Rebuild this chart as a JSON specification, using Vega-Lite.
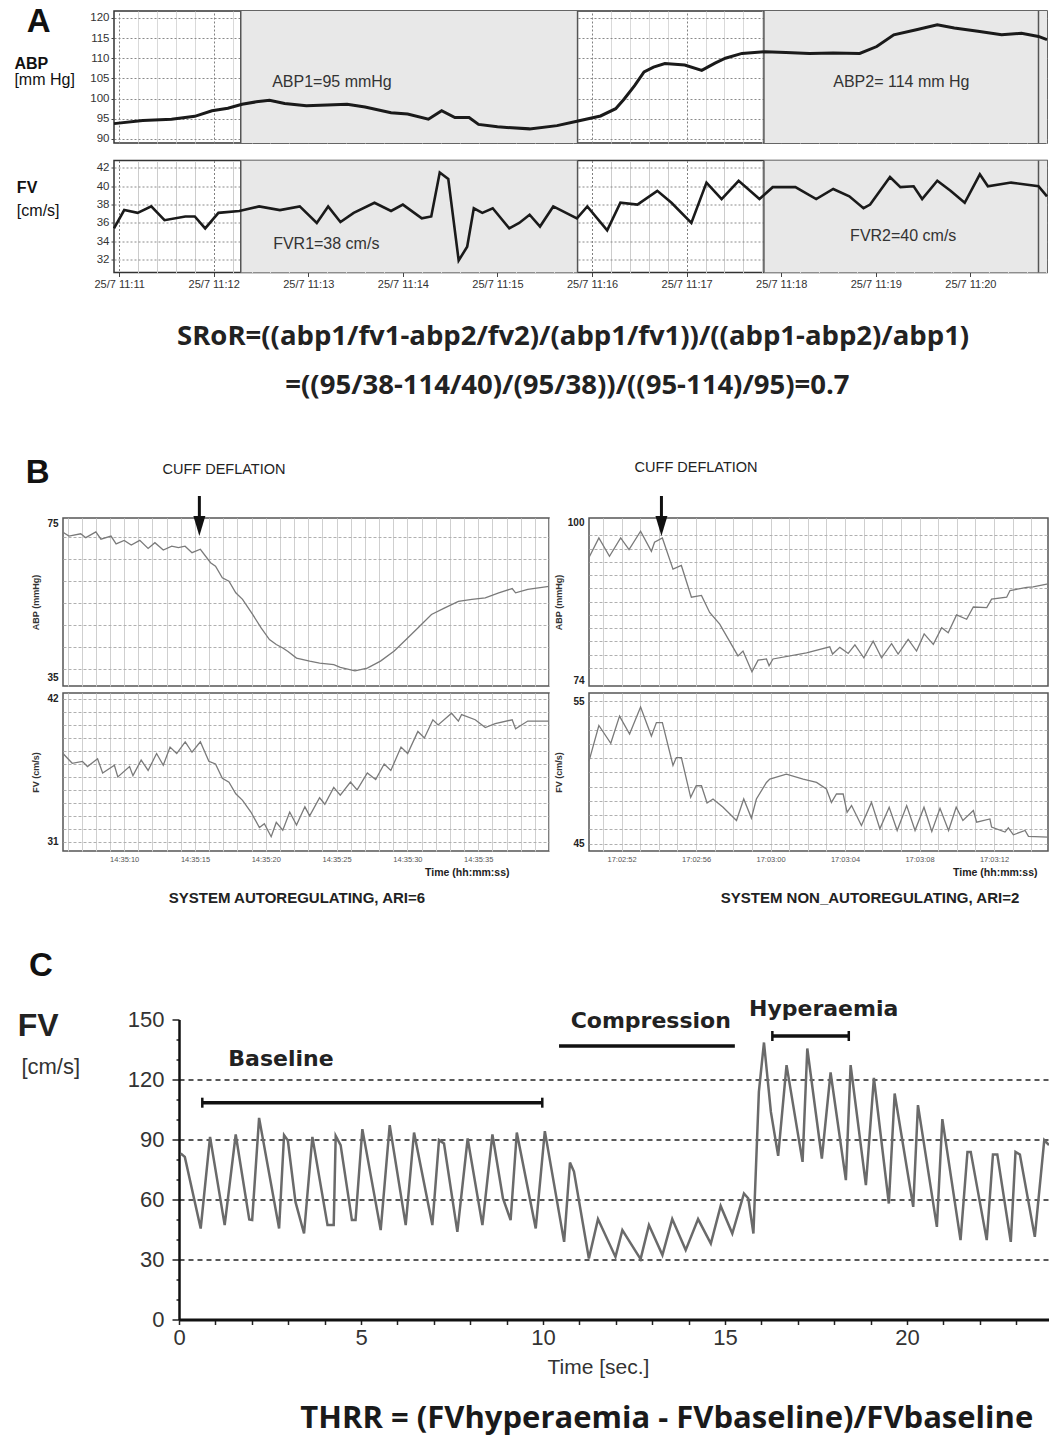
{
"$schema": "https://vega.github.io/schema/vega-lite/v6.json",
"padding": {"left": 0, "top": 0, "right": 0, "bottom": 6},
"background": "white",
"spacing": 12.5,
"bounds": "full",
"config": {
  "font": "Liberation Sans",
  "axis": {"labelFont": "Liberation Sans", "titleFont": "Liberation Sans", "labelOverlap": false, "labelFlush": false},
  "text": {"font": "Liberation Sans"}
},
"vconcat": [
{"spacing": 0, "hconcat": [
{"width": 1, "height": 1, "view": {"stroke": null}, "data": {"values": []}, "mark": "point"},
{
  "width": 933, "height": 132,
  "view": {"stroke": "#333", "strokeWidth": 1.5},
  "layer": [
    {"data": {"values": [{"start": 1.286, "end": 4.847}, {"start": 6.817, "end": 9.81}]},
     "mark": {"type": "rect", "color": "#e8e8e8"},
     "encoding": {
       "x": {"field": "start", "type": "quantitative", "scale": {"domain": [-0.054, 9.81], "nice": false, "zero": false},
         "axis": {"orient": "top", "tickCount": 200, "values": [0,0.2,0.4,0.6,0.8,1,1.2,1.4,1.6,1.8,2,2.2,2.4,2.6,2.8,3,3.2,3.4,3.6,3.8,4,4.2,4.4,4.6,4.8,5,5.2,5.4,5.6,5.8,6,6.2,6.4,6.6,6.8,7,7.2,7.4,7.6,7.8,8,8.2,8.4,8.6,8.8,9,9.2,9.4,9.6,9.8],
           "labels": false, "ticks": false, "domain": true, "domainOpacity": 0, "grid": true, "labelOverlap": false,
           "gridColor": {"condition": {"test": "datum.value == floor(datum.value)", "value": "#808080"}, "value": "#cccccc"},
           "gridDash": {"condition": {"test": "datum.value == floor(datum.value)", "value": [2, 2]}, "value": [1, 0]},
           "minExtent": 10, "maxExtent": 10, "title": null}},
       "x2": {"field": "end"}
     }},
    {"data": {"values": [{"t": 1.286}, {"t": 4.847}, {"t": 6.817}, {"t": 9.72}]},
     "mark": {"type": "rule", "color": "#555", "strokeWidth": 1.5},
     "encoding": {"x": {"field": "t", "type": "quantitative"}}},
    {"data": {"values": [
      {"t": -0.054, "v": 93.8}, {"t": 0.25, "v": 94.6}, {"t": 0.554, "v": 94.9}, {"t": 0.8, "v": 95.6}, {"t": 0.982, "v": 97.0},
      {"t": 1.15, "v": 97.6}, {"t": 1.3, "v": 98.6}, {"t": 1.45, "v": 99.2}, {"t": 1.59, "v": 99.6}, {"t": 1.75, "v": 98.8},
      {"t": 1.98, "v": 98.2}, {"t": 2.2, "v": 98.4}, {"t": 2.41, "v": 98.6}, {"t": 2.6, "v": 97.9}, {"t": 2.875, "v": 96.5},
      {"t": 3.05, "v": 96.2}, {"t": 3.27, "v": 94.9}, {"t": 3.41, "v": 97.0}, {"t": 3.55, "v": 95.3}, {"t": 3.7, "v": 95.3},
      {"t": 3.8, "v": 93.6}, {"t": 4.0, "v": 93.0}, {"t": 4.34, "v": 92.5}, {"t": 4.63, "v": 93.3}, {"t": 4.84, "v": 94.4},
      {"t": 5.09, "v": 95.7}, {"t": 5.25, "v": 97.5}, {"t": 5.34, "v": 99.9}, {"t": 5.45, "v": 103.2}, {"t": 5.55, "v": 106.6},
      {"t": 5.65, "v": 107.8}, {"t": 5.77, "v": 108.7}, {"t": 5.98, "v": 108.3}, {"t": 6.16, "v": 107.0}, {"t": 6.3, "v": 108.8},
      {"t": 6.41, "v": 110.0}, {"t": 6.585, "v": 111.2}, {"t": 6.83, "v": 111.6}, {"t": 7.05, "v": 111.4}, {"t": 7.3, "v": 111.2},
      {"t": 7.55, "v": 111.3}, {"t": 7.83, "v": 111.2}, {"t": 8.01, "v": 112.9}, {"t": 8.19, "v": 115.8}, {"t": 8.44, "v": 117.1},
      {"t": 8.65, "v": 118.3}, {"t": 8.83, "v": 117.5}, {"t": 9.08, "v": 116.7}, {"t": 9.33, "v": 115.8}, {"t": 9.54, "v": 116.2},
      {"t": 9.72, "v": 115.4}, {"t": 9.81, "v": 114.6}]},
     "mark": {"type": "line", "color": "#1a1a1a", "strokeWidth": 3},
     "encoding": {
       "x": {"field": "t", "type": "quantitative"},
       "y": {"field": "v", "type": "quantitative", "scale": {"domain": [89, 121.7], "nice": false, "zero": false},
         "axis": {"values": [90, 95, 100, 105, 110, 115, 120], "format": "d", "tickCount": 200, "grid": true, "gridColor": "#8a8a8a", "gridDash": [2, 2], "labelOverlap": false,
           "tickSize": 3, "tickColor": "#444", "domain": false, "labelFontSize": 11.5, "labelColor": "#333", "labelPadding": 2,
           "title": null, "minExtent": 112}}
     }},
    {"data": {"values": [{"t": -0.85, "v": 118.9, "label": "A"}]},
     "mark": {"type": "text", "fontSize": 33, "fontWeight": "bold", "align": "center", "baseline": "middle", "color": "#111"},
     "encoding": {"x": {"field": "t", "type": "quantitative"}, "y": {"field": "v", "type": "quantitative"}, "text": {"field": "label"}}},
    {"data": {"values": [{"t": -1.107, "v": 108.5, "label": "ABP"}]},
     "mark": {"type": "text", "fontSize": 16, "fontWeight": "bold", "align": "left", "baseline": "middle", "color": "#111"},
     "encoding": {"x": {"field": "t", "type": "quantitative"}, "y": {"field": "v", "type": "quantitative"}, "text": {"field": "label"}}},
    {"data": {"values": [{"t": -1.107, "v": 104.6, "label": "[mm Hg]"}]},
     "mark": {"type": "text", "fontSize": 16, "align": "left", "baseline": "middle", "color": "#111"},
     "encoding": {"x": {"field": "t", "type": "quantitative"}, "y": {"field": "v", "type": "quantitative"}, "text": {"field": "label"}}},
    {"data": {"values": [{"t": 2.25, "v": 104.1, "label": "ABP1=95 mmHg"}, {"t": 8.27, "v": 104.1, "label": "ABP2= 114 mm Hg"}]},
     "mark": {"type": "text", "fontSize": 16, "align": "center", "baseline": "middle", "color": "#333"},
     "encoding": {"x": {"field": "t", "type": "quantitative"}, "y": {"field": "v", "type": "quantitative"}, "text": {"field": "label"}}}
  ]
}]},
{"spacing": 0, "hconcat": [
{"width": 1, "height": 1, "view": {"stroke": null}, "data": {"values": []}, "mark": "point"},
{
  "width": 933, "height": 112,
  "view": {"stroke": "#333", "strokeWidth": 1.5},
  "layer": [
    {"data": {"values": [{"start": 1.286, "end": 4.847}, {"start": 6.817, "end": 9.81}]},
     "mark": {"type": "rect", "color": "#e8e8e8"},
     "encoding": {
       "x": {"field": "start", "type": "quantitative", "scale": {"domain": [-0.054, 9.81], "nice": false, "zero": false},
         "axis": {"tickCount": 200, "values": [0,0.2,0.4,0.6,0.8,1,1.2,1.4,1.6,1.8,2,2.2,2.4,2.6,2.8,3,3.2,3.4,3.6,3.8,4,4.2,4.4,4.6,4.8,5,5.2,5.4,5.6,5.8,6,6.2,6.4,6.6,6.8,7,7.2,7.4,7.6,7.8,8,8.2,8.4,8.6,8.8,9,9.2,9.4,9.6,9.8],
           "labelExpr": "datum.value == floor(datum.value) ? '25/7 11:' + (11 + datum.value) : ''", "labelOverlap": false,
           "labelFontSize": 11, "labelColor": "#333", "labelPadding": 2, "tickSize": 4, "tickColor": "#444",
           "tickOpacity": {"condition": {"test": "datum.value == floor(datum.value)", "value": 1}, "value": 0},
           "domain": false, "grid": true,
           "gridColor": {"condition": {"test": "datum.value == floor(datum.value)", "value": "#808080"}, "value": "#cccccc"},
           "gridDash": {"condition": {"test": "datum.value == floor(datum.value)", "value": [2, 2]}, "value": [1, 0]},
           "minExtent": 168.5, "maxExtent": 168.5, "title": null}},
       "x2": {"field": "end"}
     }},
    {"data": {"values": [{"t": 1.286}, {"t": 4.847}, {"t": 6.817}, {"t": 9.72}]},
     "mark": {"type": "rule", "color": "#555", "strokeWidth": 1.5},
     "encoding": {"x": {"field": "t", "type": "quantitative"}}},
    {"data": {"values": [
      {"t": -0.054, "v": 35.4}, {"t": 0.054, "v": 37.4}, {"t": 0.196, "v": 37.1}, {"t": 0.34, "v": 37.8}, {"t": 0.48, "v": 36.3},
      {"t": 0.7, "v": 36.7}, {"t": 0.8, "v": 36.7}, {"t": 0.91, "v": 35.4}, {"t": 1.05, "v": 37.1}, {"t": 1.27, "v": 37.3},
      {"t": 1.48, "v": 37.8}, {"t": 1.7, "v": 37.4}, {"t": 1.91, "v": 37.8}, {"t": 2.09, "v": 36.0}, {"t": 2.21, "v": 37.8},
      {"t": 2.34, "v": 36.1}, {"t": 2.48, "v": 37.1}, {"t": 2.7, "v": 38.2}, {"t": 2.875, "v": 37.3}, {"t": 3.0, "v": 38.0},
      {"t": 3.2, "v": 36.5}, {"t": 3.3, "v": 36.7}, {"t": 3.39, "v": 41.5}, {"t": 3.48, "v": 40.8}, {"t": 3.59, "v": 31.9},
      {"t": 3.68, "v": 33.4}, {"t": 3.75, "v": 37.6}, {"t": 3.84, "v": 37.1}, {"t": 3.95, "v": 37.6}, {"t": 4.125, "v": 35.4},
      {"t": 4.23, "v": 36.0}, {"t": 4.34, "v": 36.9}, {"t": 4.45, "v": 35.6}, {"t": 4.59, "v": 37.8}, {"t": 4.84, "v": 36.5},
      {"t": 4.95, "v": 37.8}, {"t": 5.16, "v": 35.2}, {"t": 5.3, "v": 38.2}, {"t": 5.48, "v": 38.0}, {"t": 5.69, "v": 39.5},
      {"t": 5.84, "v": 38.2}, {"t": 6.05, "v": 36.0}, {"t": 6.21, "v": 40.4}, {"t": 6.37, "v": 38.6}, {"t": 6.55, "v": 40.6},
      {"t": 6.77, "v": 38.6}, {"t": 6.91, "v": 39.9}, {"t": 7.15, "v": 39.9}, {"t": 7.37, "v": 38.6}, {"t": 7.55, "v": 39.7},
      {"t": 7.72, "v": 38.9}, {"t": 7.87, "v": 37.6}, {"t": 7.94, "v": 38.0}, {"t": 8.15, "v": 41.0}, {"t": 8.26, "v": 39.9},
      {"t": 8.4, "v": 40.0}, {"t": 8.49, "v": 38.6}, {"t": 8.65, "v": 40.6}, {"t": 8.79, "v": 39.5}, {"t": 8.94, "v": 38.2},
      {"t": 9.1, "v": 41.3}, {"t": 9.185, "v": 40.0}, {"t": 9.43, "v": 40.4}, {"t": 9.72, "v": 40.0}, {"t": 9.81, "v": 38.9}]},
     "mark": {"type": "line", "color": "#1a1a1a", "strokeWidth": 2.6},
     "encoding": {
       "x": {"field": "t", "type": "quantitative"},
       "y": {"field": "v", "type": "quantitative", "scale": {"domain": [30.59, 42.81], "nice": false, "zero": false},
         "axis": {"values": [32, 34, 36, 38, 40, 42], "format": "d", "tickCount": 200, "grid": true, "gridColor": "#8a8a8a", "gridDash": [2, 2], "labelOverlap": false,
           "tickSize": 3, "tickColor": "#444", "domain": false, "labelFontSize": 11.5, "labelColor": "#333", "labelPadding": 2,
           "title": null, "minExtent": 112}}
     }},
    {"data": {"values": [{"t": -1.081, "v": 39.85, "label": "FV"}]},
     "mark": {"type": "text", "fontSize": 16, "fontWeight": "bold", "align": "left", "baseline": "middle", "color": "#111"},
     "encoding": {"x": {"field": "t", "type": "quantitative"}, "y": {"field": "v", "type": "quantitative"}, "text": {"field": "label"}}},
    {"data": {"values": [{"t": -1.081, "v": 37.35, "label": "[cm/s]"}]},
     "mark": {"type": "text", "fontSize": 16, "align": "left", "baseline": "middle", "color": "#111"},
     "encoding": {"x": {"field": "t", "type": "quantitative"}, "y": {"field": "v", "type": "quantitative"}, "text": {"field": "label"}}},
    {"data": {"values": [{"t": 2.19, "v": 33.65, "label": "FVR1=38 cm/s"}, {"t": 8.29, "v": 34.55, "label": "FVR2=40 cm/s"}]},
     "mark": {"type": "text", "fontSize": 16, "align": "center", "baseline": "middle", "color": "#333"},
     "encoding": {"x": {"field": "t", "type": "quantitative"}, "y": {"field": "v", "type": "quantitative"}, "text": {"field": "label"}}},
    {"data": {"values": [
      {"t": 4.8, "v": 23.5, "label": "SRoR=((abp1/fv1-abp2/fv2)/(abp1/fv1))/((abp1-abp2)/abp1)"},
      {"t": 4.74, "v": 18.26, "label": "=((95/38-114/40)/(95/38))/((95-114)/95)=0.7"}]},
     "mark": {"type": "text", "font": "Open Sans", "fontSize": 27.5, "fontWeight": "bold", "align": "center", "baseline": "middle", "color": "#222"},
     "encoding": {"x": {"field": "t", "type": "quantitative"}, "y": {"field": "v", "type": "quantitative"}, "text": {"field": "label"}}}
  ]
}]},
{
  "spacing": 0,
  "bounds": "full",
  "hconcat": [
    {"width": 1, "height": 1, "view": {"stroke": null}, "data": {"values": []}, "mark": "point"},
    {
      "spacing": 5,
      "bounds": "full",
      "vconcat": [
        {
          "width": 486, "height": 168,
          "view": {"stroke": "#555", "strokeWidth": 1.5},
          "layer": [
            {"data": {"values": [
              {"t": 5.68, "v": 72.6}, {"t": 6.1, "v": 71.6}, {"t": 6.93, "v": 72.2}, {"t": 7.29, "v": 71.2}, {"t": 8.0, "v": 72.7},
              {"t": 8.36, "v": 70.8}, {"t": 9.07, "v": 71.6}, {"t": 9.43, "v": 69.6}, {"t": 10.0, "v": 70.5}, {"t": 10.5, "v": 69.3},
              {"t": 11.1, "v": 70.5}, {"t": 11.69, "v": 68.4}, {"t": 12.17, "v": 69.9}, {"t": 12.76, "v": 68.0}, {"t": 13.36, "v": 69.0},
              {"t": 13.83, "v": 68.6}, {"t": 14.3, "v": 69.0}, {"t": 14.79, "v": 67.3}, {"t": 15.38, "v": 68.2}, {"t": 16.1, "v": 64.7},
              {"t": 16.45, "v": 63.8}, {"t": 16.93, "v": 60.8}, {"t": 17.4, "v": 59.9}, {"t": 17.88, "v": 56.9}, {"t": 18.36, "v": 55.2},
              {"t": 19.07, "v": 51.3}, {"t": 19.67, "v": 47.8}, {"t": 20.26, "v": 44.8}, {"t": 20.74, "v": 43.5}, {"t": 21.2, "v": 42.6},
              {"t": 21.57, "v": 41.7}, {"t": 22.17, "v": 40.0}, {"t": 23.1, "v": 39.2}, {"t": 23.8, "v": 38.7}, {"t": 24.8, "v": 38.3},
              {"t": 25.26, "v": 37.6}, {"t": 26.3, "v": 36.7}, {"t": 27.17, "v": 37.4}, {"t": 28.1, "v": 39.2}, {"t": 29.07, "v": 41.8},
              {"t": 29.8, "v": 44.4}, {"t": 30.74, "v": 47.8}, {"t": 31.7, "v": 51.3}, {"t": 32.64, "v": 53.0}, {"t": 33.6, "v": 54.7},
              {"t": 34.55, "v": 55.2}, {"t": 35.5, "v": 55.6}, {"t": 36.45, "v": 56.9}, {"t": 37.4, "v": 58.0}, {"t": 37.64, "v": 56.9},
              {"t": 38.5, "v": 57.8}, {"t": 40.0, "v": 58.6}]},
             "mark": {"type": "line", "color": "#7a7a7a", "strokeWidth": 1.3},
             "encoding": {
               "x": {"field": "t", "type": "quantitative", "scale": {"domain": [5.68, 40], "nice": false, "zero": false},
                 "axis": {"orient": "top", "tickCount": 200, "values": [6,7,8,9,10,11,12,13,14,15,16,17,18,19,20,21,22,23,24,25,26,27,28,29,30,31,32,33,34,35,36,37,38,39,40],
                   "labels": false, "ticks": false, "domain": true, "domainOpacity": 0, "grid": true, "gridColor": "#cfcfcf", "gridWidth": 1, "labelOverlap": false,
                   "minExtent": 62, "maxExtent": 62, "title": null}},
               "y": {"field": "v", "type": "quantitative", "scale": {"domain": [32.75, 76.3], "nice": false, "zero": false},
                 "axis": {"values": [35, 37.1, 42.8, 48.6, 54.3, 60, 65.7, 71.5, 75], "format": "d", "tickCount": 200, "labelOverlap": false,
                   "labelExpr": "datum.value == 35 || datum.value == 75 ? datum.label : ''",
                   "grid": true, "gridColor": "#b0b0b0", "gridDash": [3, 2],
                   "gridOpacity": {"condition": {"test": "datum.value == 35 || datum.value == 75", "value": 0}, "value": 1},
                   "ticks": false, "domain": false, "labelFontSize": 10, "labelFontWeight": "bold", "labelColor": "#222", "labelPadding": 5,
                   "title": "ABP (mmHg)", "titleFontSize": 9, "titleFontWeight": "bold", "titleColor": "#333", "titleX": -23, "titleY": 84,
                   "minExtent": 61}}
             }},
            {"data": {"values": [{"t": 3.9, "v": 87.96, "label": "B"}]},
             "mark": {"type": "text", "fontSize": 33, "fontWeight": "bold", "align": "center", "baseline": "middle", "color": "#111"},
             "encoding": {"x": {"field": "t", "type": "quantitative"}, "y": {"field": "v", "type": "quantitative"}, "text": {"field": "label"}}},
            {"data": {"values": [{"t": 17.05, "v": 88.74, "label": "CUFF DEFLATION"}]},
             "mark": {"type": "text", "fontSize": 14.5, "align": "center", "baseline": "middle", "color": "#222"},
             "encoding": {"x": {"field": "t", "type": "quantitative"}, "y": {"field": "v", "type": "quantitative"}, "text": {"field": "label"}}},
            {"data": {"values": [{"t": 15.31, "v": 82.0, "v2": 75.5}]},
             "mark": {"type": "rule", "color": "#111", "strokeWidth": 3},
             "encoding": {"x": {"field": "t", "type": "quantitative"}, "y": {"field": "v", "type": "quantitative"}, "y2": {"field": "v2"}}},
            {"data": {"values": [{"t": 15.31, "v": 74.2}]},
             "mark": {"type": "point", "shape": "M-0.6,-1L0.6,-1L0,1Z", "filled": true, "color": "#111", "size": 400, "opacity": 1},
             "encoding": {"x": {"field": "t", "type": "quantitative"}, "y": {"field": "v", "type": "quantitative"}}}
          ]
        },
        {
          "width": 486, "height": 158,
          "view": {"stroke": "#555", "strokeWidth": 1.5},
          "layer": [
            {"data": {"values": [
              {"t": 5.68, "v": 37.8}, {"t": 6.33, "v": 37.05}, {"t": 7.05, "v": 37.2}, {"t": 7.41, "v": 36.8}, {"t": 8.12, "v": 37.4},
              {"t": 8.48, "v": 36.3}, {"t": 9.31, "v": 36.9}, {"t": 9.55, "v": 36.0}, {"t": 10.38, "v": 36.8}, {"t": 10.62, "v": 36.1},
              {"t": 11.2, "v": 37.3}, {"t": 11.69, "v": 36.5}, {"t": 12.29, "v": 37.8}, {"t": 12.76, "v": 36.9}, {"t": 13.24, "v": 38.3},
              {"t": 13.71, "v": 37.8}, {"t": 14.31, "v": 38.7}, {"t": 14.79, "v": 37.9}, {"t": 15.38, "v": 38.7}, {"t": 15.98, "v": 37.2},
              {"t": 16.45, "v": 37.0}, {"t": 16.93, "v": 35.9}, {"t": 17.4, "v": 35.6}, {"t": 17.88, "v": 34.7}, {"t": 18.36, "v": 34.2},
              {"t": 18.95, "v": 33.3}, {"t": 19.55, "v": 32.1}, {"t": 19.9, "v": 32.4}, {"t": 20.38, "v": 31.4}, {"t": 20.74, "v": 32.5},
              {"t": 21.2, "v": 31.9}, {"t": 21.69, "v": 33.3}, {"t": 22.17, "v": 32.3}, {"t": 22.76, "v": 33.7}, {"t": 23.1, "v": 33.0},
              {"t": 23.8, "v": 34.4}, {"t": 24.17, "v": 33.9}, {"t": 24.8, "v": 35.2}, {"t": 25.26, "v": 34.6}, {"t": 25.98, "v": 35.6},
              {"t": 26.45, "v": 35.0}, {"t": 27.17, "v": 36.3}, {"t": 27.76, "v": 35.8}, {"t": 28.36, "v": 37.0}, {"t": 28.83, "v": 36.5},
              {"t": 29.55, "v": 38.3}, {"t": 30.02, "v": 37.8}, {"t": 30.74, "v": 39.5}, {"t": 31.2, "v": 39.0}, {"t": 31.8, "v": 40.4},
              {"t": 32.17, "v": 40.0}, {"t": 33.12, "v": 40.9}, {"t": 33.6, "v": 40.3}, {"t": 33.83, "v": 40.8}, {"t": 34.79, "v": 40.4},
              {"t": 35.5, "v": 39.8}, {"t": 36.2, "v": 40.1}, {"t": 37.4, "v": 40.4}, {"t": 37.64, "v": 39.7}, {"t": 38.5, "v": 40.3},
              {"t": 40.0, "v": 40.3}]},
             "mark": {"type": "line", "color": "#7a7a7a", "strokeWidth": 1.3},
             "encoding": {
               "x": {"field": "t", "type": "quantitative", "scale": {"domain": [5.68, 40], "nice": false, "zero": false},
                 "axis": {"tickCount": 200, "values": [6,7,8,9,10,11,12,13,14,15,16,17,18,19,20,21,22,23,24,25,26,27,28,29,30,31,32,33,34,35,36,37,38,39,40],
                   "labelExpr": "datum.value % 5 == 0 && datum.value < 40 ? '14:35:' + format(datum.value, '02d') : ''", "labelOverlap": false,
                   "labelFontSize": 7.5, "labelColor": "#555", "labelPadding": 4, "ticks": false, "domain": false,
                   "grid": true, "gridColor": "#cfcfcf", "gridWidth": 1,
                   "title": "Time (hh:mm:ss)", "titleFontSize": 10.5, "titleFontWeight": "bold", "titleColor": "#222",
                   "titleX": 446, "titleY": 21, "titleAlign": "right", "titleBaseline": "middle",
                   "minExtent": 84.5, "maxExtent": 84.5}},
               "y": {"field": "v", "type": "quantitative", "scale": {"domain": [30.3, 42.46], "nice": false, "zero": false},
                 "axis": {"values": [31,32,33,34,35,36,37,38,39,40,41,42], "format": "d", "tickCount": 200, "labelOverlap": false,
                   "labelExpr": "datum.value == 31 || datum.value == 42 ? datum.label : ''",
                   "grid": true, "gridColor": "#b0b0b0", "gridDash": [3, 2],
                   "ticks": false, "domain": false, "labelFontSize": 10, "labelFontWeight": "bold", "labelColor": "#222", "labelPadding": 5,
                   "title": "FV (cm/s)", "titleFontSize": 9, "titleFontWeight": "bold", "titleColor": "#333", "titleX": -23, "titleY": 79,
                   "minExtent": 61}}
             }},
            {"data": {"values": [{"t": 22.2, "v": 26.7, "label": "SYSTEM AUTOREGULATING, ARI=6"}]},
             "mark": {"type": "text", "fontSize": 15, "fontWeight": "bold", "align": "center", "baseline": "middle", "color": "#222"},
             "encoding": {"x": {"field": "t", "type": "quantitative"}, "y": {"field": "v", "type": "quantitative"}, "text": {"field": "label"}}}
          ]
        }
      ]
    },
    {
      "spacing": 5,
      "bounds": "full",
      "vconcat": [
        {
          "width": 459, "height": 168,
          "view": {"stroke": "#555", "strokeWidth": 1.5},
          "layer": [
            {"data": {"values": [
              {"t": 50.25, "v": 94.2}, {"t": 50.78, "v": 97.4}, {"t": 51.35, "v": 94.4}, {"t": 51.95, "v": 97.4}, {"t": 52.4, "v": 95.5},
              {"t": 53.02, "v": 98.5}, {"t": 53.6, "v": 95.2}, {"t": 53.77, "v": 96.7}, {"t": 54.19, "v": 97.4}, {"t": 54.76, "v": 92.3},
              {"t": 55.21, "v": 92.9}, {"t": 55.75, "v": 87.7}, {"t": 56.29, "v": 88.0}, {"t": 56.73, "v": 85.2}, {"t": 57.27, "v": 83.3},
              {"t": 58.25, "v": 78.1}, {"t": 58.52, "v": 78.9}, {"t": 59.0, "v": 75.5}, {"t": 59.33, "v": 77.4}, {"t": 59.78, "v": 77.6},
              {"t": 59.92, "v": 76.5}, {"t": 60.13, "v": 77.6}, {"t": 61.93, "v": 78.6}, {"t": 63.18, "v": 79.6}, {"t": 63.33, "v": 78.4},
              {"t": 63.72, "v": 79.5}, {"t": 64.17, "v": 78.5}, {"t": 64.53, "v": 79.9}, {"t": 65.01, "v": 77.8}, {"t": 65.51, "v": 80.5},
              {"t": 65.96, "v": 77.8}, {"t": 66.5, "v": 80.1}, {"t": 66.85, "v": 78.4}, {"t": 67.39, "v": 80.8}, {"t": 67.84, "v": 78.9},
              {"t": 68.25, "v": 81.7}, {"t": 68.74, "v": 80.0}, {"t": 69.19, "v": 82.7}, {"t": 69.54, "v": 81.9}, {"t": 69.99, "v": 84.8},
              {"t": 70.53, "v": 84.1}, {"t": 70.89, "v": 86.1}, {"t": 71.61, "v": 86.0}, {"t": 71.87, "v": 87.4}, {"t": 72.68, "v": 87.7},
              {"t": 72.86, "v": 88.8}, {"t": 73.76, "v": 89.3}, {"t": 74.1, "v": 89.4}, {"t": 74.9, "v": 89.9}]},
             "mark": {"type": "line", "color": "#7a7a7a", "strokeWidth": 1.3},
             "encoding": {
               "x": {"field": "t", "type": "quantitative", "scale": {"domain": [50.25, 74.9], "nice": false, "zero": false},
                 "axis": {"orient": "top", "tickCount": 200, "values": [51,52,53,54,55,56,57,58,59,60,61,62,63,64,65,66,67,68,69,70,71,72,73,74],
                   "labels": false, "ticks": false, "domain": true, "domainOpacity": 0, "grid": true, "gridColor": "#cfcfcf", "gridWidth": 1, "labelOverlap": false,
                   "minExtent": 62, "maxExtent": 62, "title": null}},
               "y": {"field": "v", "type": "quantitative", "scale": {"domain": [73.18, 100.66], "nice": false, "zero": false},
                 "axis": {"values": [74, 76.17, 78.33, 80.5, 82.67, 84.83, 87, 89.17, 91.33, 93.5, 95.67, 97.83, 100], "format": "d", "tickCount": 200, "labelOverlap": false,
                   "labelExpr": "datum.value == 74 || datum.value == 100 ? datum.label : ''",
                   "grid": true, "gridColor": "#b0b0b0", "gridDash": [3, 2],
                   "gridOpacity": {"condition": {"test": "datum.value == 74 || datum.value == 100", "value": 0}, "value": 1},
                   "ticks": false, "domain": false, "labelFontSize": 10, "labelFontWeight": "bold", "labelColor": "#222", "labelPadding": 5,
                   "title": "ABP (mmHg)", "titleFontSize": 9, "titleFontWeight": "bold", "titleColor": "#333", "titleX": -26, "titleY": 84,
                   "minExtent": 34}}
             }},
            {"data": {"values": [{"t": 56.0, "v": 108.76, "label": "CUFF DEFLATION"}]},
             "mark": {"type": "text", "fontSize": 14.5, "align": "center", "baseline": "middle", "color": "#222"},
             "encoding": {"x": {"field": "t", "type": "quantitative"}, "y": {"field": "v", "type": "quantitative"}, "text": {"field": "label"}}},
            {"data": {"values": [{"t": 54.14, "v": 104.26, "v2": 100.5}]},
             "mark": {"type": "rule", "color": "#111", "strokeWidth": 3},
             "encoding": {"x": {"field": "t", "type": "quantitative"}, "y": {"field": "v", "type": "quantitative"}, "y2": {"field": "v2"}}},
            {"data": {"values": [{"t": 54.14, "v": 99.35}]},
             "mark": {"type": "point", "shape": "M-0.6,-1L0.6,-1L0,1Z", "filled": true, "color": "#111", "size": 400, "opacity": 1},
             "encoding": {"x": {"field": "t", "type": "quantitative"}, "y": {"field": "v", "type": "quantitative"}}}
          ]
        },
        {
          "width": 459, "height": 158,
          "view": {"stroke": "#555", "strokeWidth": 1.5},
          "layer": [
            {"data": {"values": [
              {"t": 50.25, "v": 50.8}, {"t": 50.78, "v": 53.3}, {"t": 51.42, "v": 52.05}, {"t": 51.89, "v": 53.96}, {"t": 52.43, "v": 52.7},
              {"t": 53.02, "v": 54.6}, {"t": 53.6, "v": 52.56}, {"t": 53.87, "v": 53.5}, {"t": 54.19, "v": 53.5}, {"t": 54.76, "v": 50.5},
              {"t": 54.94, "v": 51.05}, {"t": 55.21, "v": 51.05}, {"t": 55.71, "v": 48.26}, {"t": 56.01, "v": 49.07}, {"t": 56.29, "v": 49.07},
              {"t": 56.59, "v": 47.86}, {"t": 56.91, "v": 48.14}, {"t": 57.45, "v": 47.56}, {"t": 58.17, "v": 46.63}, {"t": 58.56, "v": 48.14},
              {"t": 58.97, "v": 46.8}, {"t": 59.24, "v": 48.14}, {"t": 59.78, "v": 49.3}, {"t": 59.96, "v": 49.54}, {"t": 60.85, "v": 49.88},
              {"t": 61.75, "v": 49.54}, {"t": 62.47, "v": 49.3}, {"t": 63.0, "v": 48.84}, {"t": 63.27, "v": 47.9}, {"t": 63.54, "v": 48.49},
              {"t": 63.9, "v": 48.49}, {"t": 64.11, "v": 47.2}, {"t": 64.35, "v": 47.68}, {"t": 64.88, "v": 46.28}, {"t": 65.42, "v": 47.9},
              {"t": 65.87, "v": 46.05}, {"t": 66.37, "v": 47.56}, {"t": 66.8, "v": 45.93}, {"t": 67.31, "v": 47.68}, {"t": 67.76, "v": 45.93},
              {"t": 68.24, "v": 47.56}, {"t": 68.66, "v": 45.86}, {"t": 69.1, "v": 47.49}, {"t": 69.56, "v": 45.93}, {"t": 69.97, "v": 47.56},
              {"t": 70.33, "v": 46.63}, {"t": 70.89, "v": 47.33}, {"t": 71.07, "v": 46.51}, {"t": 71.78, "v": 46.74}, {"t": 71.87, "v": 46.17},
              {"t": 72.59, "v": 45.82}, {"t": 72.77, "v": 46.12}, {"t": 73.04, "v": 45.63}, {"t": 73.67, "v": 45.93}, {"t": 73.85, "v": 45.52},
              {"t": 74.9, "v": 45.47}]},
             "mark": {"type": "line", "color": "#7a7a7a", "strokeWidth": 1.3},
             "encoding": {
               "x": {"field": "t", "type": "quantitative", "scale": {"domain": [50.25, 74.9], "nice": false, "zero": false},
                 "axis": {"tickCount": 200, "values": [51,52,53,54,55,56,57,58,59,60,61,62,63,64,65,66,67,68,69,70,71,72,73,74], "labelOverlap": false,
                   "labelExpr": "datum.value % 4 == 0 ? (datum.value < 60 ? '17:02:' + format(datum.value, '02d') : '17:03:' + format(datum.value - 60, '02d')) : ''",
                   "labelFontSize": 7.5, "labelColor": "#555", "labelPadding": 4, "ticks": false, "domain": false,
                   "grid": true, "gridColor": "#cfcfcf", "gridWidth": 1,
                   "title": "Time (hh:mm:ss)", "titleFontSize": 10.5, "titleFontWeight": "bold", "titleColor": "#222",
                   "titleX": 448, "titleY": 21, "titleAlign": "right", "titleBaseline": "middle",
                   "minExtent": 84.5, "maxExtent": 84.5}},
               "y": {"field": "v", "type": "quantitative", "scale": {"domain": [44.49, 55.58], "nice": false, "zero": false},
                 "axis": {"values": [45,46,47,48,49,50,51,52,53,54,55], "format": "d", "tickCount": 200, "labelOverlap": false,
                   "labelExpr": "datum.value == 45 || datum.value == 55 ? datum.label : ''",
                   "grid": true, "gridColor": "#b0b0b0", "gridDash": [3, 2],
                   "ticks": false, "domain": false, "labelFontSize": 10, "labelFontWeight": "bold", "labelColor": "#222", "labelPadding": 5,
                   "title": "FV (cm/s)", "titleFontSize": 9, "titleFontWeight": "bold", "titleColor": "#333", "titleX": -26, "titleY": 79,
                   "minExtent": 34}}
             }},
            {"data": {"values": [{"t": 65.34, "v": 41.2, "label": "SYSTEM NON_AUTOREGULATING, ARI=2"}]},
             "mark": {"type": "text", "fontSize": 15, "fontWeight": "bold", "align": "center", "baseline": "middle", "color": "#222"},
             "encoding": {"x": {"field": "t", "type": "quantitative"}, "y": {"field": "v", "type": "quantitative"}, "text": {"field": "label"}}}
          ]
        }
      ]
    }
  ]
},
{"spacing": 0, "hconcat": [
{"width": 1, "height": 1, "view": {"stroke": null}, "data": {"values": []}, "mark": "point"},
{
  "width": 870, "height": 300,
  "view": {"stroke": null},
  "layer": [
    {"data": {"values": [
      {"t": 0.047, "v": 83}, {"t": 0.16, "v": 81.3}, {"t": 0.596, "v": 45.5}, {"t": 0.853, "v": 91.3}, {"t": 1.255, "v": 47.2},
      {"t": 1.558, "v": 92.5}, {"t": 1.93, "v": 50}, {"t": 2.01, "v": 49.7}, {"t": 2.2, "v": 100.8}, {"t": 2.75, "v": 45.5},
      {"t": 2.886, "v": 92.2}, {"t": 2.99, "v": 89.5}, {"t": 3.2, "v": 58.8}, {"t": 3.435, "v": 43}, {"t": 3.664, "v": 91.3},
      {"t": 4.08, "v": 47.2}, {"t": 4.25, "v": 47.2}, {"t": 4.305, "v": 91.8}, {"t": 4.44, "v": 87.2}, {"t": 4.75, "v": 49.7},
      {"t": 4.85, "v": 49.7}, {"t": 5.037, "v": 95.2}, {"t": 5.541, "v": 44.7}, {"t": 5.788, "v": 97.2}, {"t": 6.228, "v": 47.2},
      {"t": 6.457, "v": 93.5}, {"t": 6.96, "v": 47.2}, {"t": 7.143, "v": 89.7}, {"t": 7.28, "v": 88}, {"t": 7.647, "v": 43.8},
      {"t": 7.93, "v": 90.5}, {"t": 8.335, "v": 47.2}, {"t": 8.61, "v": 92.5}, {"t": 8.9, "v": 60.5}, {"t": 9.11, "v": 49.7},
      {"t": 9.28, "v": 93.5}, {"t": 9.8, "v": 45.5}, {"t": 10.05, "v": 94.2}, {"t": 10.58, "v": 38.8}, {"t": 10.74, "v": 78.5},
      {"t": 10.85, "v": 74}, {"t": 11.26, "v": 30.5}, {"t": 11.51, "v": 50.2}, {"t": 11.99, "v": 31.3}, {"t": 12.18, "v": 44.7},
      {"t": 12.68, "v": 30.2}, {"t": 12.91, "v": 47.2}, {"t": 13.28, "v": 32.2}, {"t": 13.55, "v": 50.2}, {"t": 13.92, "v": 34.7},
      {"t": 14.26, "v": 50.2}, {"t": 14.61, "v": 38}, {"t": 14.88, "v": 56.8}, {"t": 15.2, "v": 43}, {"t": 15.52, "v": 63},
      {"t": 15.64, "v": 60.5}, {"t": 15.78, "v": 43}, {"t": 15.93, "v": 113.8}, {"t": 16.07, "v": 138.5}, {"t": 16.26, "v": 103.8},
      {"t": 16.46, "v": 81.8}, {"t": 16.69, "v": 127.2}, {"t": 17.13, "v": 78.8}, {"t": 17.26, "v": 135.5}, {"t": 17.49, "v": 103.8},
      {"t": 17.66, "v": 80.5}, {"t": 17.9, "v": 123.5}, {"t": 18.32, "v": 69.7}, {"t": 18.45, "v": 127.2}, {"t": 18.87, "v": 67.2},
      {"t": 19.09, "v": 120.8}, {"t": 19.5, "v": 58}, {"t": 19.66, "v": 113}, {"t": 20.17, "v": 56.3}, {"t": 20.3, "v": 107.2},
      {"t": 20.82, "v": 46.3}, {"t": 20.97, "v": 100.2}, {"t": 21.47, "v": 39.7}, {"t": 21.66, "v": 83.8}, {"t": 21.75, "v": 83.8},
      {"t": 22.19, "v": 39.7}, {"t": 22.36, "v": 82.5}, {"t": 22.48, "v": 82.5}, {"t": 22.85, "v": 38.8}, {"t": 22.98, "v": 83.8},
      {"t": 23.1, "v": 82.5}, {"t": 23.51, "v": 41.3}, {"t": 23.77, "v": 89.7}, {"t": 23.9, "v": 87.2}]},
     "mark": {"type": "line", "color": "#6a6a6a", "strokeWidth": 2.5},
     "encoding": {
       "x": {"field": "t", "type": "quantitative", "scale": {"domain": [0, 23.9], "nice": false, "zero": false},
         "axis": {"tickCount": 200, "format": "d", "values": [0,1,2,3,4,5,6,7,8,9,10,11,12,13,14,15,16,17,18,19,20,21,22,23], "labelOverlap": false,
           "labelExpr": "datum.value % 5 == 0 ? datum.label : ''",
           "tickSize": 5, "tickColor": "#222", "tickWidth": 1.5, "domainColor": "#111", "domainWidth": 3,
           "labelFontSize": 22, "labelColor": "#333", "labelPadding": 3, "grid": false,
           "title": "Time  [sec.]", "titleFontSize": 21, "titleFontWeight": "normal", "titleColor": "#333",
           "titleX": 419, "titleY": 48, "titleBaseline": "middle", "titleAlign": "center"}},
       "y": {"field": "v", "type": "quantitative", "scale": {"domain": [0, 150], "nice": false, "zero": false},
         "axis": {"tickCount": 200, "format": "d", "values": [0,10,20,30,40,50,60,70,80,90,100,110,120,130,140,150], "labelOverlap": false,
           "labelExpr": "datum.value % 30 == 0 ? datum.label : ''",
           "tickSize": {"condition": {"test": "datum.value % 30 == 0", "value": 7}, "value": 3},
           "tickColor": "#222", "tickWidth": 1.5, "domainColor": "#111", "domainWidth": 2.5,
           "labelFontSize": 22, "labelColor": "#333", "labelPadding": 8,
           "grid": true, "gridColor": "#222", "gridDash": [5, 4], "gridWidth": 1.5,
           "gridOpacity": {"condition": {"test": "datum.value == 30 || datum.value == 60 || datum.value == 90 || datum.value == 120", "value": 1}, "value": 0},
           "title": null, "minExtent": 178}}
     }},
    {"data": {"values": [{"t": 0.64, "t2": 9.98, "v": 108.4}, {"t": 10.44, "t2": 15.27, "v": 136.75}, {"t": 16.3, "t2": 18.4, "v": 141.75}]},
     "mark": {"type": "rule", "color": "#111", "strokeWidth": 3.5},
     "encoding": {"x": {"field": "t", "type": "quantitative"}, "x2": {"field": "t2"}, "y": {"field": "v", "type": "quantitative"}}},
    {"data": {"values": [{"t": 0.64, "v": 105.9, "v2": 110.9}, {"t": 9.98, "v": 105.9, "v2": 110.9}, {"t": 16.3, "v": 139.25, "v2": 144.25}, {"t": 18.4, "v": 139.25, "v2": 144.25}]},
     "mark": {"type": "rule", "color": "#111", "strokeWidth": 2.5},
     "encoding": {"x": {"field": "t", "type": "quantitative"}, "y": {"field": "v", "type": "quantitative"}, "y2": {"field": "v2"}}},
    {"data": {"values": [{"t": 2.8, "v": 130.1, "label": "Baseline"}, {"t": 12.96, "v": 149.25, "label": "Compression"}, {"t": 17.71, "v": 155.25, "label": "Hyperaemia"}]},
     "mark": {"type": "text", "font": "DejaVu Sans", "fontSize": 22, "fontWeight": "bold", "align": "center", "baseline": "middle", "color": "#222"},
     "encoding": {"x": {"field": "t", "type": "quantitative"}, "y": {"field": "v", "type": "quantitative"}, "text": {"field": "label"}}},
    {"data": {"values": [{"t": -3.79, "v": 176.75, "label": "C"}]},
     "mark": {"type": "text", "fontSize": 33, "fontWeight": "bold", "align": "center", "baseline": "middle", "color": "#111"},
     "encoding": {"x": {"field": "t", "type": "quantitative"}, "y": {"field": "v", "type": "quantitative"}, "text": {"field": "label"}}},
    {"data": {"values": [{"t": -4.43, "v": 146.75, "label": "FV"}]},
     "mark": {"type": "text", "fontSize": 32, "fontWeight": "bold", "align": "left", "baseline": "middle", "color": "#222"},
     "encoding": {"x": {"field": "t", "type": "quantitative"}, "y": {"field": "v", "type": "quantitative"}, "text": {"field": "label"}}},
    {"data": {"values": [{"t": -4.33, "v": 126.25, "label": "[cm/s]"}]},
     "mark": {"type": "text", "fontSize": 22, "align": "left", "baseline": "middle", "color": "#333"},
     "encoding": {"x": {"field": "t", "type": "quantitative"}, "y": {"field": "v", "type": "quantitative"}, "text": {"field": "label"}}},
    {"data": {"values": [{"t": 13.4, "v": -49.5, "label": "THRR = (FVhyperaemia - FVbaseline)/FVbaseline"}]},
     "mark": {"type": "text", "font": "Open Sans", "fontSize": 31, "fontWeight": "bold", "align": "center", "baseline": "middle", "color": "#1a1a1a"},
     "encoding": {"x": {"field": "t", "type": "quantitative"}, "y": {"field": "v", "type": "quantitative"}, "text": {"field": "label"}}}
  ]
}]}
]
}
